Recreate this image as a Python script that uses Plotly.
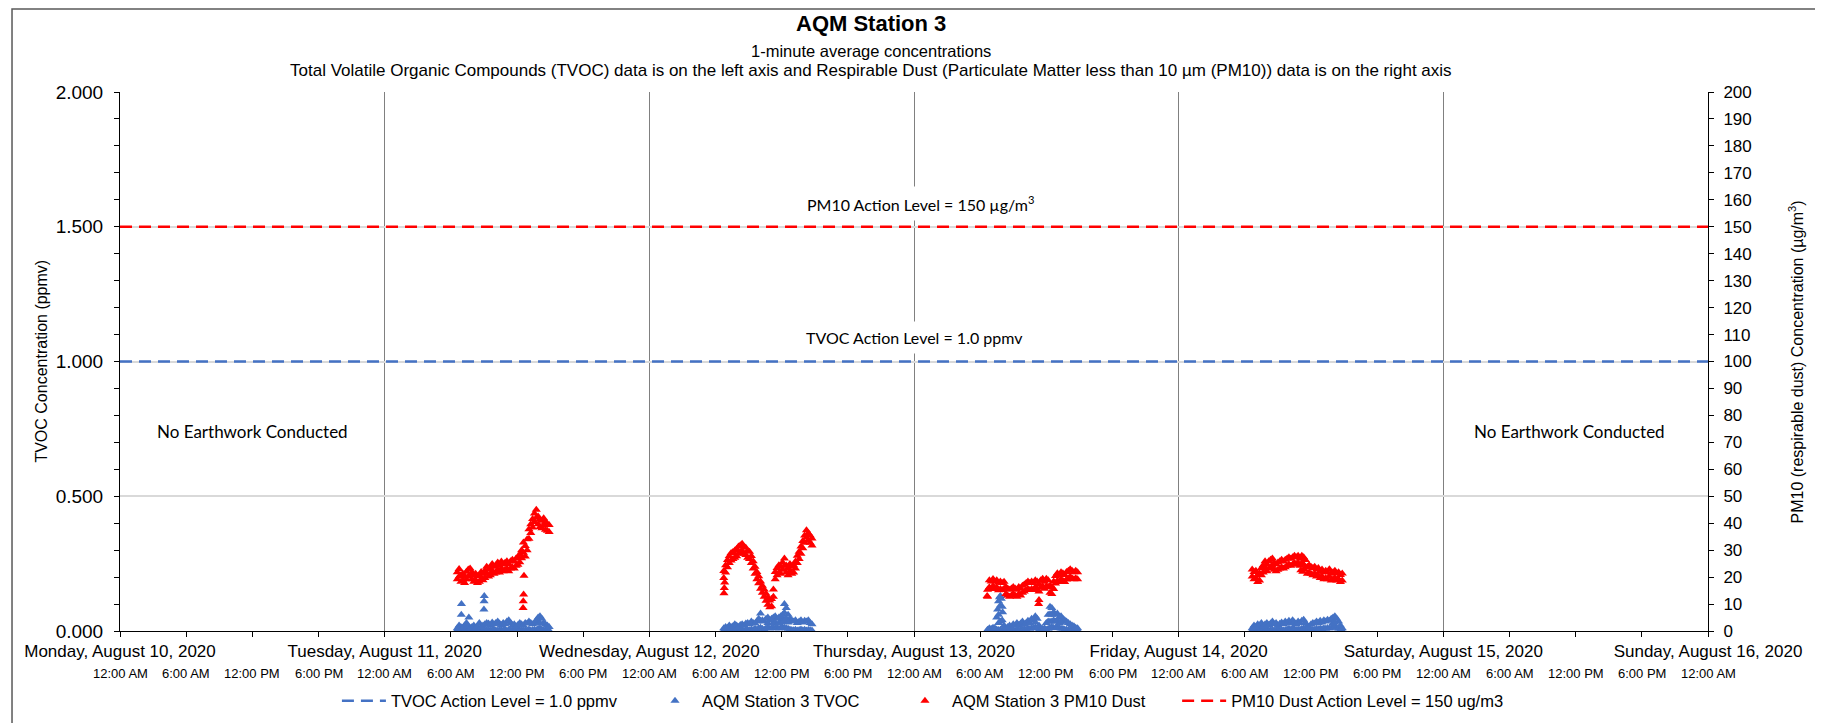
import pandas as pd
import plotly.graph_objects as go

FONT = "Liberation Sans"
BLUE = "#4472C4"
RED = "#FF0000"

# x-axis window and labels
x_start = "2020-08-10 00:00"
x_end = "2020-08-16 00:00"
day_ticks = pd.date_range(x_start, x_end, freq="1D")
time_ticks = pd.date_range(x_start, x_end, freq="6h")

# action levels
tvoc_action_level = 1.0      # ppmv, left axis
pm10_action_level = 150      # ug/m3, right axis

# TVOC (ppmv): high and low reading in each 10-minute window
tvoc_starts = ["2020-08-11 06:35", "2020-08-12 06:45", "2020-08-13 06:40", "2020-08-14 06:40"]
tvoc_aug11_hi = [0.010, 0.020, 0.015, 0.012, 0.020, 0.030, 0.018, 0.010, 0.015, 0.020, 0.012, 0.018, 0.030,
                 0.015, 0.020, 0.025, 0.030, 0.028, 0.020, 0.032, 0.025, 0.030, 0.035, 0.028, 0.022, 0.030,
                 0.025, 0.035, 0.040, 0.030, 0.020, 0.025, 0.018, 0.022, 0.030, 0.025, 0.020, 0.030, 0.028,
                 0.035, 0.030, 0.025, 0.030, 0.040, 0.050, 0.055, 0.045, 0.030, 0.025, 0.020, 0.015]
tvoc_aug11_lo = [0.004, 0.002, 0.006, 0.003, 0.005, 0.002, 0.004, 0.003, 0.006, 0.002, 0.004, 0.005, 0.003,
                 0.002, 0.006, 0.004, 0.003, 0.005, 0.002, 0.004, 0.006, 0.003, 0.002, 0.005, 0.004, 0.003,
                 0.006, 0.002, 0.004, 0.005, 0.003, 0.002, 0.004, 0.006, 0.003, 0.005, 0.002, 0.004, 0.003,
                 0.006, 0.002, 0.004, 0.005, 0.003, 0.008, 0.010, 0.006, 0.004, 0.003, 0.005, 0.002]
tvoc_aug12_hi = [0.010, 0.015, 0.012, 0.020, 0.015, 0.018, 0.025, 0.020, 0.015, 0.022, 0.025, 0.020, 0.028,
                 0.030, 0.025, 0.035, 0.030, 0.028, 0.035, 0.045, 0.065, 0.040, 0.035, 0.045, 0.050, 0.040,
                 0.045, 0.050, 0.055, 0.045, 0.050, 0.055, 0.060, 0.100, 0.085, 0.060, 0.045, 0.040, 0.035,
                 0.040, 0.030, 0.035, 0.040, 0.032, 0.038, 0.035, 0.040, 0.030, 0.025]
tvoc_aug12_lo = [0.003, 0.005, 0.002, 0.004, 0.006, 0.003, 0.002, 0.005, 0.004, 0.003, 0.006, 0.002, 0.004,
                 0.005, 0.003, 0.006, 0.004, 0.008, 0.005, 0.010, 0.012, 0.008, 0.006, 0.010, 0.012, 0.009,
                 0.011, 0.013, 0.010, 0.012, 0.009, 0.011, 0.014, 0.012, 0.010, 0.008, 0.006, 0.004, 0.003,
                 0.005, 0.002, 0.004, 0.006, 0.003, 0.005, 0.002, 0.004, 0.003, 0.002]
tvoc_aug13_hi = [0.005, 0.010, 0.008, 0.012, 0.010, 0.050, 0.110, 0.130, 0.090, 0.020, 0.010, 0.015, 0.020,
                 0.012, 0.025, 0.020, 0.030, 0.022, 0.028, 0.035, 0.025, 0.030, 0.038, 0.030, 0.045, 0.040,
                 0.055, 0.045, 0.020, 0.005, 0.008, 0.010, 0.030, 0.060, 0.090, 0.085, 0.070, 0.060, 0.065,
                 0.050, 0.055, 0.045, 0.040, 0.035, 0.030, 0.025, 0.020, 0.018, 0.012, 0.010]
tvoc_aug13_lo = [0.002, 0.004, 0.003, 0.005, 0.002, 0.006, 0.004, 0.005, 0.003, 0.004, 0.002, 0.005, 0.003,
                 0.006, 0.004, 0.002, 0.005, 0.003, 0.006, 0.004, 0.008, 0.006, 0.010, 0.008, 0.012, 0.010,
                 0.014, 0.010, 0.004, 0.002, 0.003, 0.002, 0.005, 0.008, 0.012, 0.015, 0.012, 0.010, 0.014,
                 0.011, 0.009, 0.008, 0.006, 0.005, 0.004, 0.003, 0.005, 0.002, 0.004, 0.003]
tvoc_aug14_hi = [0.010, 0.020, 0.015, 0.025, 0.020, 0.030, 0.018, 0.025, 0.030, 0.022, 0.028, 0.035, 0.025,
                 0.030, 0.020, 0.027, 0.032, 0.025, 0.035, 0.030, 0.038, 0.028, 0.040, 0.032, 0.025, 0.035,
                 0.030, 0.038, 0.042, 0.030, 0.020, 0.015, 0.025, 0.030, 0.028, 0.035, 0.030, 0.038, 0.032,
                 0.040, 0.035, 0.042, 0.038, 0.045, 0.050, 0.055, 0.045, 0.035, 0.020, 0.010]
tvoc_aug14_lo = [0.003, 0.005, 0.002, 0.006, 0.004, 0.003, 0.005, 0.002, 0.006, 0.004, 0.003, 0.005, 0.002,
                 0.004, 0.006, 0.003, 0.005, 0.002, 0.004, 0.006, 0.008, 0.005, 0.010, 0.007, 0.004, 0.006,
                 0.005, 0.008, 0.010, 0.006, 0.003, 0.002, 0.004, 0.006, 0.005, 0.008, 0.006, 0.009, 0.007,
                 0.010, 0.008, 0.011, 0.009, 0.012, 0.014, 0.015, 0.012, 0.008, 0.004, 0.002]
# isolated TVOC readings (spikes and mid-column values)
tvoc_extra_times = ["2020-08-11 06:57", "2020-08-11 06:58", "2020-08-11 07:38", "2020-08-11 09:00",
                    "2020-08-11 09:01", "2020-08-11 09:02", "2020-08-11 13:55", "2020-08-11 14:05",
                    "2020-08-12 10:05", "2020-08-12 10:45", "2020-08-12 11:15", "2020-08-12 11:25",
                    "2020-08-12 11:45", "2020-08-12 11:55", "2020-08-12 12:05", "2020-08-12 12:15",
                    "2020-08-12 12:15", "2020-08-12 12:25", "2020-08-12 12:35",
                    "2020-08-13 07:35", "2020-08-13 07:40", "2020-08-13 07:40", "2020-08-13 07:45",
                    "2020-08-13 07:50", "2020-08-13 07:50", "2020-08-13 07:55", "2020-08-13 08:00",
                    "2020-08-13 08:02", "2020-08-13 11:00", "2020-08-13 12:10", "2020-08-13 12:20",
                    "2020-08-13 12:20", "2020-08-13 12:30", "2020-08-13 12:30", "2020-08-13 12:40",
                    "2020-08-13 12:50", "2020-08-13 13:00", "2020-08-13 13:10", "2020-08-13 13:20",
                    "2020-08-14 14:00", "2020-08-14 14:10"]
tvoc_extra_values = [0.060, 0.100, 0.050, 0.080, 0.110, 0.130, 0.028, 0.030,
                     0.038, 0.030, 0.030, 0.032,
                     0.030, 0.033, 0.035, 0.040,
                     0.068, 0.045, 0.032,
                     0.080, 0.030, 0.060, 0.125,
                     0.035, 0.095, 0.120, 0.040,
                     0.070, 0.032, 0.035, 0.035,
                     0.062, 0.035, 0.060, 0.040,
                     0.035, 0.038, 0.030, 0.032,
                     0.030, 0.032]

# PM10 (ug/m3): high and low reading in each 10-minute window
pm10_starts = ["2020-08-11 06:35", "2020-08-12 06:45", "2020-08-13 06:40", "2020-08-14 06:40"]
pm10_aug11_hi = [21.8, 23.0, 20.8, 21.2, 20.4, 22.0, 22.8, 23.2, 21.8, 20.8, 21.2, 20.3, 20.8, 21.9, 21.3,
                 22.4, 23.8, 22.8, 23.4, 24.9, 23.8, 24.3, 25.4, 24.3, 25.8, 24.8, 25.3, 25.9, 24.8, 25.9,
                 26.4, 25.8, 26.9, 27.4, 28.5, 30.0, 32.8, 31.5, 34.0, 37.8, 39.6, 41.6, 43.6, 45.0, 42.5,
                 41.4, 40.9, 41.8, 40.4, 39.8, 39.3]
pm10_aug11_lo = [19.2, 20.2, 18.3, 18.8, 17.8, 19.2, 20.2, 20.7, 19.2, 18.3, 18.8, 17.8, 18.3, 19.2, 18.8,
                 19.7, 21.2, 20.2, 20.7, 22.2, 21.2, 21.7, 22.7, 21.7, 23.2, 22.2, 22.7, 23.2, 22.2, 23.2,
                 23.7, 23.2, 24.2, 24.6, 25.5, 27.0, 29.0, 27.6, 30.0, 34.2, 36.4, 38.4, 40.4, 42.0, 39.6,
                 38.6, 38.1, 39.2, 37.6, 37.2, 36.7]
pm10_aug12_hi = [22.3, 24.4, 26.3, 27.8, 28.9, 29.3, 29.9, 30.4, 31.4, 31.8, 32.4, 31.3, 30.9, 29.8, 29.4,
                 27.8, 25.9, 23.8, 21.9, 20.3, 18.4, 16.8, 15.4, 13.8, 12.4, 11.3, 11.9, 15.4, 21.9, 23.4,
                 24.4, 23.8, 25.4, 26.9, 24.3, 23.4, 24.9, 23.8, 24.4, 25.8, 27.9, 29.4, 31.4, 33.4, 35.4,
                 37.4, 36.3, 35.4, 34.3]
pm10_aug12_lo = [19.7, 21.7, 23.7, 25.2, 26.2, 26.7, 27.2, 27.7, 28.7, 29.2, 29.7, 28.7, 28.2, 27.2, 26.7,
                 25.2, 23.2, 21.2, 19.2, 17.7, 15.7, 14.2, 12.7, 11.2, 9.7, 8.8, 9.2, 12.7, 19.2, 20.7,
                 21.7, 21.2, 22.7, 24.2, 21.7, 20.7, 22.2, 21.2, 21.7, 23.2, 25.2, 26.7, 28.7, 30.7, 32.7,
                 34.7, 33.7, 32.7, 31.7]
pm10_aug13_hi = [15.3, 18.8, 18.4, 19.3, 18.4, 18.8, 17.9, 18.4, 17.8, 18.3, 16.3, 15.8, 15.3, 15.8, 16.3,
                 15.8, 15.3, 16.3, 15.8, 16.8, 17.3, 17.8, 18.4, 17.8, 18.4, 17.8, 18.8, 18.4, 17.3, 18.8,
                 19.4, 18.3, 19.4, 18.8, 16.8, 16.3, 18.4, 20.4, 21.4, 20.8, 21.8, 21.4, 20.8, 21.9, 22.4,
                 22.9, 22.4, 21.8, 22.4, 21.8]
pm10_aug13_lo = [12.7, 16.2, 15.6, 16.7, 15.6, 16.2, 15.1, 15.6, 15.2, 15.7, 13.7, 13.2, 12.7, 13.2, 13.7,
                 13.2, 12.7, 13.7, 13.2, 14.2, 14.7, 15.2, 15.6, 15.2, 15.6, 15.2, 16.2, 15.6, 14.7, 16.2,
                 16.6, 15.7, 16.6, 16.2, 14.2, 13.7, 15.6, 17.6, 18.6, 18.2, 19.2, 18.6, 18.2, 19.1, 19.6,
                 20.1, 19.6, 19.2, 19.6, 19.2]
pm10_aug14_hi = [22.8, 21.9, 22.4, 20.8, 21.4, 23.4, 24.4, 25.9, 24.8, 25.9, 26.4, 26.9, 25.3, 24.8, 25.4,
                 25.9, 26.4, 25.8, 26.4, 26.9, 27.4, 26.8, 27.4, 27.9, 27.4, 27.9, 26.8, 27.9, 27.4, 26.3,
                 23.8, 24.4, 23.8, 23.4, 23.8, 22.8, 23.4, 22.3, 22.8, 21.8, 22.4, 21.8, 22.9, 21.3, 21.8,
                 22.4, 21.3, 21.8, 20.8, 21.3]
pm10_aug14_lo = [20.2, 19.2, 19.7, 18.2, 18.7, 20.7, 21.7, 23.2, 22.2, 23.2, 23.7, 24.2, 22.7, 22.2, 22.7,
                 23.2, 23.7, 23.2, 23.7, 24.2, 24.7, 24.2, 24.7, 25.2, 24.7, 25.2, 24.2, 25.2, 24.7, 23.7,
                 21.2, 21.7, 21.2, 20.7, 21.2, 20.2, 20.7, 19.7, 20.2, 19.2, 19.7, 19.2, 20.2, 18.7, 19.2,
                 19.7, 18.7, 19.2, 18.2, 18.7]
# isolated PM10 readings
pm10_extra_times = ["2020-08-11 12:33", "2020-08-11 12:34", "2020-08-11 12:36", "2020-08-11 12:38",
                    "2020-08-12 06:46", "2020-08-12 06:48", "2020-08-12 06:50", "2020-08-13 06:38",
                    "2020-08-13 11:18", "2020-08-13 11:20", "2020-08-14 11:05", "2020-08-14 11:15",
                    "2020-08-14 11:25"]
pm10_extra_values = [8.5, 11.0, 13.5, 20.5, 14.0, 16.0, 18.0, 13.0, 10.0, 11.5, 22.5, 22.0, 22.8]


def collect(starts, days, extra_times, extra_values):
    xs, ys = [], []
    for start, vals in zip(starts, days):
        xs += list(pd.date_range(start, periods=len(vals), freq="10min"))
        ys += vals
    xs += list(pd.to_datetime(extra_times))
    ys += extra_values
    return xs, ys


tvoc_x, tvoc_y = collect(tvoc_starts * 2,
                         [tvoc_aug11_lo, tvoc_aug12_lo, tvoc_aug13_lo, tvoc_aug14_lo,
                          tvoc_aug11_hi, tvoc_aug12_hi, tvoc_aug13_hi, tvoc_aug14_hi],
                         tvoc_extra_times, tvoc_extra_values)
pm10_x, pm10_y = collect(pm10_starts * 2,
                         [pm10_aug11_lo, pm10_aug12_lo, pm10_aug13_lo, pm10_aug14_lo,
                          pm10_aug11_hi, pm10_aug12_hi, pm10_aug13_hi, pm10_aug14_hi],
                         pm10_extra_times, pm10_extra_values)

fig = go.Figure()

fig.add_trace(go.Scatter(
    x=[x_start, x_end], y=[tvoc_action_level, tvoc_action_level],
    mode="lines", name="TVOC Action Level = 1.0 ppmv",
    line=dict(color=BLUE, width=2.5, dash="12px,7px"), legend="legend"))
fig.add_trace(go.Scatter(
    x=tvoc_x, y=tvoc_y, mode="markers", name="AQM Station 3 TVOC",
    marker=dict(symbol="triangle-up", size=8, color=BLUE), legend="legend2"))
fig.add_trace(go.Scatter(
    x=pm10_x, y=pm10_y, yaxis="y2", mode="markers", name="AQM Station 3 PM10 Dust",
    marker=dict(symbol="triangle-up", size=8, color=RED), legend="legend3"))
fig.add_trace(go.Scatter(
    x=[x_start, x_end], y=[pm10_action_level, pm10_action_level], yaxis="y2",
    mode="lines", name="PM10 Dust Action Level = 150 ug/m3",
    line=dict(color=RED, width=2.5, dash="12px,7px"), legend="legend4"))

annotations = [
    dict(text="<b>AQM Station 3</b>", x=0.473, y=1.128, font=dict(size=22)),
    dict(text="1-minute average concentrations", x=0.473, y=1.076, font=dict(size=16.5)),
    dict(text="Total Volatile Organic Compounds (TVOC) data is on the left axis and Respirable Dust "
              "(Particulate Matter less than 10 µm (PM10)) data is on the right axis",
         x=0.473, y=1.040, font=dict(size=17)),
    dict(text="TVOC Concentration (ppmv)", x=-0.0497, y=0.5, textangle=-90, font=dict(size=16)),
    dict(text="PM10 (respirable dust) Concentration (µg/m<sup>3</sup>)", x=1.0554, y=0.5,
         textangle=-90, font=dict(size=16)),
]
for a in annotations:
    a.update(xref="paper", yref="paper", showarrow=False, xanchor="center", yanchor="middle")
    a["font"].update(family=FONT, color="black")

for t in time_ticks:
    annotations.append(dict(text=t.strftime("%-I:%M %p"), x=t, y=-0.078, xref="x", yref="paper",
                            showarrow=False, yanchor="middle",
                            font=dict(family=FONT, size=13, color="black")))

note_font = dict(family="Lato", size=16, color="black")
annotations += [
    dict(text="PM10 Action Level = 150 µg/m<sup>3</sup>", x="2020-08-13 00:40", y=158.5,
         xref="x", yref="y2", showarrow=False, bgcolor="white", borderpad=6, font=note_font),
    dict(text="TVOC Action Level = 1.0 ppmv", x="2020-08-13 00:00", y=1.09,
         xref="x", yref="y", showarrow=False, bgcolor="white", borderpad=6, font=note_font),
    dict(text="No Earthwork Conducted", x="2020-08-10 12:00", y=0.74,
         xref="x", yref="y", showarrow=False, font=dict(note_font, size=17)),
    dict(text="No Earthwork Conducted", x="2020-08-15 11:25", y=0.74,
         xref="x", yref="y", showarrow=False, font=dict(note_font, size=17)),
]

legend_style = dict(orientation="h", yanchor="middle", y=-0.13, xanchor="left",
                    bgcolor="rgba(0,0,0,0)", itemwidth=44,
                    font=dict(family=FONT, size=16.5, color="black"))

# the page adds an 8px body margin, so the figure is 8px smaller than the window
fig.update_layout(
    width=1815, height=715,
    margin=dict(l=112, r=115, t=84, b=92, autoexpand=False),
    paper_bgcolor="white", plot_bgcolor="white",
    font=dict(family=FONT, color="black"),
    showlegend=True,
    annotations=annotations,
    legend=dict(legend_style, x=0.1366),
    legend2=dict(legend_style, x=0.3325),
    legend3=dict(legend_style, x=0.4899),
    legend4=dict(legend_style, x=0.6657),
    xaxis=dict(
        type="date", range=[x_start, x_end], automargin=False,
        tickvals=day_ticks, ticktext=[d.strftime("%A, %B %d, %Y") for d in day_ticks],
        tickfont=dict(size=17), ticks="outside", ticklen=5, tickcolor="black",
        showgrid=True, gridcolor="#808080", gridwidth=1,
        showline=True, linecolor="black", linewidth=1, zeroline=False,
        minor=dict(tickvals=time_ticks, ticks="outside", ticklen=5, tickcolor="black", showgrid=False),
    ),
    yaxis=dict(
        range=[0, 2], tick0=0, dtick=0.5, tickformat=".3f", tickfont=dict(size=19),
        ticks="outside", ticklen=5, tickcolor="black", ticklabelstandoff=7, automargin=False,
        showgrid=True, gridcolor="#d9d9d9", gridwidth=1.5,
        showline=True, linecolor="black", linewidth=1, zeroline=False,
        minor=dict(dtick=0.1, ticks="outside", ticklen=5, tickcolor="black", showgrid=False),
    ),
    yaxis2=dict(
        overlaying="y", side="right", range=[0, 200], tick0=0, dtick=10, tickfont=dict(size=17),
        ticks="outside", ticklen=5, tickcolor="black", ticklabelstandoff=6, showgrid=False,
        automargin=False, showline=True, linecolor="black", linewidth=1, zeroline=False,
    ),
    shapes=[dict(type="rect", xref="paper", yref="paper", x0=-0.068, x1=1.068, y0=-0.3, y1=1.154,
                 line=dict(color="#595959", width=1.5), layer="below")],
)

fig.write_html("out.html")
